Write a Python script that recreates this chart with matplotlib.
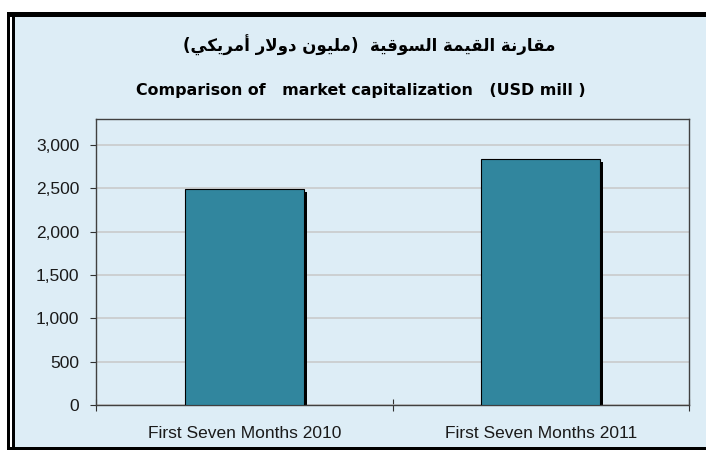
import matplotlib
matplotlib.use('Agg')
import matplotlib.pyplot as plt
import matplotlib.transforms as mtransforms
from matplotlib.patches import Rectangle
from matplotlib.ticker import FuncFormatter

# chart data
categories = ['First Seven Months 2010', 'First Seven Months 2011']
market_cap = [2490, 2835]
y_ticks = [0, 500, 1000, 1500, 2000, 2500, 3000]

title_ar = 'مقارنة القيمة السوقية  (مليون دولار أمريكي)'
title_en = 'Comparison of   market capitalization   (USD mill )'

# arabic letters -> (isolated, final, initial, medial) presentation forms
FORMS = {
    'ا': (0xFE8D, 0xFE8E, None, None),
    'أ': (0xFE83, 0xFE84, None, None),
    'ة': (0xFE93, 0xFE94, None, None),
    'د': (0xFEA9, 0xFEAA, None, None),
    'ر': (0xFEAD, 0xFEAE, None, None),
    'و': (0xFEED, 0xFEEE, None, None),
    'س': (0xFEB1, 0xFEB2, 0xFEB3, 0xFEB4),
    'ق': (0xFED5, 0xFED6, 0xFED7, 0xFED8),
    'ك': (0xFED9, 0xFEDA, 0xFEDB, 0xFEDC),
    'ل': (0xFEDD, 0xFEDE, 0xFEDF, 0xFEE0),
    'م': (0xFEE1, 0xFEE2, 0xFEE3, 0xFEE4),
    'ن': (0xFEE5, 0xFEE6, 0xFEE7, 0xFEE8),
    'ي': (0xFEF1, 0xFEF2, 0xFEF3, 0xFEF4),
}
LAM_ALEF = {'ا': (0xFEFB, 0xFEFC), 'أ': (0xFEF7, 0xFEF8)}


def shape_arabic(text):
    # matplotlib has no shaping / bidi, so do it by hand
    out = []
    i = 0
    n = len(text)
    while i < n:
        c = text[i]
        if c not in FORMS:
            out.append(c)
            i += 1
            continue
        prev_joins = i > 0 and text[i - 1] in FORMS and FORMS[text[i - 1]][2] is not None
        if c == 'ل' and i + 1 < n and text[i + 1] in LAM_ALEF:
            iso, fin = LAM_ALEF[text[i + 1]]
            out.append(chr(fin if prev_joins else iso))
            i += 2
            continue
        next_joins = i + 1 < n and text[i + 1] in FORMS
        iso, fin, ini, med = FORMS[c]
        if ini is None:
            code = fin if prev_joins else iso
        elif prev_joins and next_joins:
            code = med
        elif prev_joins:
            code = fin
        elif next_joins:
            code = ini
        else:
            code = iso
        out.append(chr(code))
        i += 1
    vis = ''.join(reversed(out))
    return vis.translate(str.maketrans('()', ')('))


W, H = 706, 450
bg = '#DDEDF6'
bar_color = '#31869E'

fig = plt.figure(figsize=(W / 100, H / 100), dpi=100)
fig.patch.set_facecolor('white')


def px_rect(x0, y0, x1, y1, color):
    fig.add_artist(Rectangle((x0 / W, 1 - y1 / H), (x1 - x0) / W, (y1 - y0) / H,
                             transform=fig.transFigure, facecolor=color, lw=0, zorder=0))


# outer frame
px_rect(14, 17, W, 447, bg)
px_rect(7, 12, 9.5, H, 'black')
px_rect(12, 12, 14.5, H, 'black')
px_rect(7, 12, W, 17, 'black')
px_rect(7, 447, W, H, 'black')

fig.text(0.523, 0.9, shape_arabic(title_ar), ha='center', va='center',
         fontsize=12, fontweight='bold', family='DejaVu Sans')
fig.text(0.511, 0.8, title_en, ha='center', va='center',
         fontsize=11.4, fontweight='bold', family='DejaVu Sans')

ax = fig.add_axes([96 / W, 1 - 405 / H, (689 - 96) / W, (405 - 119) / H])
ax.set_facecolor(bg)

x_pos = list(range(len(categories)))
bar_width = 0.4

shadow = ax.bar(x_pos, market_cap, width=bar_width, color='black', zorder=2)
off = mtransforms.ScaledTranslation(3 / 100, -3 / 100, fig.dpi_scale_trans)
for r in shadow:
    r.set_transform(ax.transData + off)
ax.bar(x_pos, market_cap, width=bar_width, color=bar_color,
       edgecolor='black', linewidth=0.8, zorder=3)

ax.set_xlim(-0.5, len(categories) - 0.5)
ax.set_ylim(0, 3300)
ax.set_yticks(y_ticks)
ax.yaxis.set_major_formatter(FuncFormatter(lambda v, p: f'{int(v):,}'))
ax.grid(axis='y', color='#C8C8C8', linewidth=1.1, zorder=1)
ax.set_axisbelow(True)

ax.set_xticks([-0.5, 0.5, 1.5])
ax.set_xticklabels([])
ax.set_xticks(x_pos, minor=True)
ax.set_xticklabels(categories, minor=True)
ax.tick_params(axis='x', which='major', direction='inout', length=9, color='#303030')
ax.tick_params(axis='x', which='minor', length=0, pad=15, labelsize=12.5, labelcolor='#1a1a1a')
ax.tick_params(axis='y', direction='out', length=4, pad=8, labelsize=12.5,
               color='#303030', labelcolor='#1a1a1a')
for lab in ax.get_xticklabels(minor=True) + ax.get_yticklabels():
    lab.set_family('Liberation Sans')

for s in ax.spines.values():
    s.set_color('#404040')
    s.set_linewidth(1.0)

fig.savefig('out.png', dpi=100)
